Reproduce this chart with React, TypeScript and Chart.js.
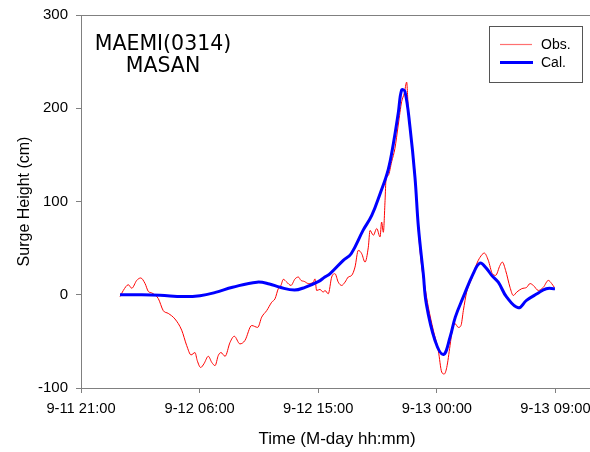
import React, { useEffect, useRef } from 'react';
import { Chart, registerables } from 'chart.js';

Chart.register(...registerables);

// Hours after 9-11 21:00
const tickHours = [0, 9, 18, 27, 36];
const tickLabels = ['9-11 21:00', '9-12 06:00', '9-12 15:00', '9-13 00:00', '9-13 09:00'];
const yTicks = [-100, 0, 100, 200, 300];

const obsHours = [
  2.96, 3.21, 3.59, 3.85, 4.23, 4.53, 4.86, 5.11, 5.36, 5.86, 6.24, 6.62, 7.13, 7.64, 8.02, 8.35, 8.65, 8.82,
  9.08, 9.33, 9.66, 9.92, 10.17, 10.42, 10.62, 10.93, 11.31, 11.63, 12.06, 12.44, 12.95, 13.41, 13.71, 14.09,
  14.47, 14.72, 14.97, 15.17, 15.35, 15.61, 15.93, 16.24, 16.49, 16.69, 16.94, 17.25, 17.63, 17.75, 17.88,
  18.13, 18.38, 18.51, 18.76, 19.02, 19.27, 19.52, 19.78, 20.03, 20.28, 20.54, 20.79, 21.04, 21.3, 21.55,
  21.8, 21.93, 22.18, 22.44, 22.69, 22.81, 22.94, 23.07, 23.14, 23.32, 23.57, 23.82, 24.07, 24.33, 24.53,
  24.71, 24.83, 25.09, 25.34, 25.59, 25.85, 26.1, 26.35, 26.73, 27.11, 27.37, 27.56, 27.75, 28.0, 28.17,
  28.38, 28.63, 28.83, 29.01, 29.26, 29.64, 30.02, 30.27, 30.6, 30.9, 31.21, 31.46, 31.79, 31.97, 32.22,
  32.55, 32.8, 33.06, 33.44, 33.82, 34.07, 34.32, 34.7, 35.08, 35.46, 35.71, 35.91,
];
const obsValues = [
  -2, 4.6, 10.7, 7, 15.4, 18, 12, 3.5, 2, -4, -17, -20, -26, -38, -54.5, -64.5, -62, -70.6,
  -78, -74, -66, -72.5, -76, -65, -62, -66, -51, -44.5, -52.7, -49, -33, -35, -24, -17,
  -8, -4.3, 6.5, 10, 16.5, 13.5, 10, 17, 19, 15.4, 14.3, 12, 13.5, 17, 4.6,
  5.7, 2.8, 4.6, 1, 19, 22.6, 13.5, 10, 13.5, 19, 20.8, 29.7, 47.6, 44, 35,
  51, 69, 63.8, 71, 62, 78, 67, 101, 123, 128, 142.6, 157, 182, 207, 216,
  228, 200, 164, 130, 70, 30, 8, -13, -38, -60, -83, -85, -78, -54.5, -38,
  -31, -35, -33, -17, 2.8, 17, 33, 40, 44.7, 37, 22.6, 20.8, 31.5, 35, 26,
  8, -0.8, 2.8, 6.5, 8, 12, 10, 4.6, 8, 15.4, 12, 8,
];

const calHours = [
  2.96, 4.5, 6.0, 7.74, 9.03, 10.2, 11.5, 13.35, 14.3, 15.1, 16.2, 17.0, 18.0, 18.5, 18.9, 19.9, 20.5,
  21.4, 22.06, 22.7, 23.3, 23.7, 24.07, 24.33, 24.58, 24.96, 25.34, 25.6, 25.97, 26.2, 26.86, 27.5,
  28.0, 28.4, 29.0, 29.76, 30.27, 30.78, 31.16, 31.66, 32.3, 33.18, 33.8, 34.6, 35.3, 35.96,
];
const calValues = [
  0, 0, -0.5, -2, -1, 2.5, 8, 13.5, 11.6, 8, 5, 8, 14, 19, 22.6, 36.9, 44,
  69, 85, 108.6, 133.7, 162, 194.6, 219.7, 218, 180, 126, 72.7, 22.6, -9.7, -49, -64,
  -45.6, -24, -2.6, 22.6, 34, 28, 20.8, 13.5, -2.6, -14, -6, 1, 6.5, 6.5,
];

const AXIS = '#808080';
const SANS = '"Liberation Sans", Arial, sans-serif';

const decorPlugin = {
  id: 'decor',
  afterDraw(chart: any) {
    const { ctx, chartArea } = chart;
    ctx.save();
    // top frame line
    ctx.strokeStyle = AXIS;
    ctx.lineWidth = 1;
    ctx.beginPath();
    ctx.moveTo(chartArea.left, chartArea.top + 0.5);
    ctx.lineTo(chartArea.right, chartArea.top + 0.5);
    ctx.stroke();

    // inner title
    ctx.fillStyle = '#000';
    ctx.textAlign = 'center';
    ctx.textBaseline = 'alphabetic';
    ctx.font = '20.5px "DejaVu Sans", Verdana, sans-serif';
    ctx.fillText('MAEMI(0314)', 163, 50);
    ctx.fillText('MASAN', 163, 72);

    // axis titles
    ctx.font = '17px ' + SANS;
    ctx.textBaseline = 'middle';
    ctx.fillText('Time (M-day hh:mm)', 337, 439);
    ctx.save();
    ctx.translate(25, (chartArea.top + chartArea.bottom) / 2);
    ctx.rotate(-Math.PI / 2);
    ctx.font = '16px ' + SANS;
    ctx.fillText('Surge Height (cm)', 0, 0);
    ctx.restore();

    // legend
    ctx.fillStyle = '#fff';
    ctx.fillRect(489.5, 26.5, 93, 56);
    ctx.strokeStyle = '#555';
    ctx.lineWidth = 1;
    ctx.strokeRect(489.5, 26.5, 93, 56);
    ctx.strokeStyle = '#ff7070';
    ctx.lineWidth = 1.2;
    ctx.beginPath();
    ctx.moveTo(500, 44.5);
    ctx.lineTo(532, 44.5);
    ctx.stroke();
    ctx.strokeStyle = '#0000ff';
    ctx.lineWidth = 3;
    ctx.beginPath();
    ctx.moveTo(500, 62.5);
    ctx.lineTo(533, 62.5);
    ctx.stroke();
    ctx.fillStyle = '#000';
    ctx.textAlign = 'left';
    ctx.textBaseline = 'middle';
    ctx.font = '14px ' + SANS;
    ctx.fillText('Obs.', 541, 45);
    ctx.fillText('Cal.', 541, 63);
    ctx.restore();
  },
};

export default function App() {
  const ref = useRef<HTMLCanvasElement>(null);

  useEffect(() => {
    if (!ref.current) return;
    const chart = new Chart(ref.current, {
      type: 'line',
      data: {
        datasets: [
          {
            label: 'Cal.',
            data: calHours.map((h, i) => ({ x: h, y: calValues[i] })),
            borderColor: '#0000ff',
            borderWidth: 3,
            pointRadius: 0,
            tension: 0.4,
            order: 0,
          },
          {
            label: 'Obs.',
            data: obsHours.map((h, i) => ({ x: h, y: obsValues[i] })),
            borderColor: '#ff0000',
            borderWidth: 1,
            pointRadius: 0,
            cubicInterpolationMode: 'monotone',
            order: 1,
          },
        ],
      },
      options: {
        responsive: false,
        animation: false,
        devicePixelRatio: 1,
        layout: { padding: { top: 15, right: 0, left: 0, bottom: 0 } },
        plugins: { legend: { display: false }, tooltip: { enabled: false } },
        scales: {
          x: {
            type: 'linear',
            min: 0,
            max: 38.62,
            afterBuildTicks: (s: any) => {
              s.ticks = tickHours.map((v) => ({ value: v }));
            },
            afterFit: (s: any) => {
              s.height = 64;
              s.paddingLeft = 0;
              s.paddingRight = 0;
            },
            ticks: {
              autoSkip: false,
              maxRotation: 0,
              padding: 7,
              color: '#000',
              font: { family: SANS, size: 14.7 },
              callback: (v: any) => {
                const i = tickHours.indexOf(Number(v));
                return i >= 0 ? tickLabels[i] : '';
              },
            },
            grid: { drawOnChartArea: false, drawTicks: true, tickLength: 5, color: AXIS },
            border: { color: AXIS, width: 1 },
          },
          y: {
            min: -100,
            max: 300,
            afterBuildTicks: (s: any) => {
              s.ticks = yTicks.map((v) => ({ value: v }));
            },
            afterFit: (s: any) => {
              s.width = 81;
              s.paddingTop = 0;
              s.paddingBottom = 0;
            },
            ticks: {
              padding: 8,
              color: '#000',
              font: { family: SANS, size: 15 },
            },
            grid: { drawOnChartArea: false, drawTicks: true, tickLength: 5, color: AXIS },
            border: { color: AXIS, width: 1 },
          },
        },
      },
      plugins: [decorPlugin],
    } as any);
    return () => chart.destroy();
  }, []);

  return (
    <div style={{ position: 'fixed', left: 0, top: 0, width: 590, height: 452, background: '#fff' }}>
      <canvas ref={ref} width={590} height={452} style={{ width: 590, height: 452, display: 'block' }} />
    </div>
  );
}
